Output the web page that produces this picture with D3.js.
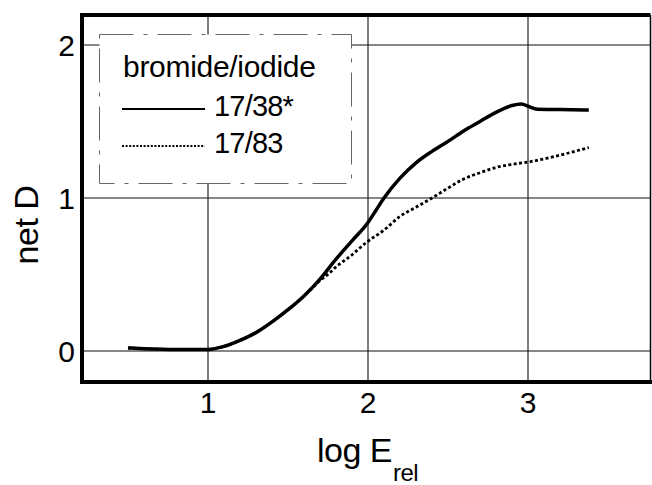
<!DOCTYPE html>
<html>
<head>
<meta charset="utf-8">
<script src="https://cdn.jsdelivr.net/npm/d3@7"></script>
<style>
  html, body { margin: 0; padding: 0; background: #fff; }
  svg { display: block; font-family: "Liberation Sans", Arial, Helvetica, sans-serif; }
</style>
</head>
<body>
<svg id="chart" width="652" height="485"></svg>
<script>
// log E_rel values and net density for the two bromide/iodide ratios
const xSolid = [0.50, 0.60, 0.80, 1.00, 1.10, 1.20, 1.30, 1.40, 1.50, 1.60, 1.70, 1.80, 1.90, 2.00, 2.05, 2.10, 2.20, 2.30, 2.40, 2.50, 2.60, 2.70, 2.80, 2.90, 2.96, 3.00, 3.06, 3.20, 3.38];
const ySolid = [0.02, 0.015, 0.01, 0.01, 0.03, 0.07, 0.12, 0.19, 0.27, 0.36, 0.47, 0.60, 0.72, 0.84, 0.92, 1.00, 1.13, 1.23, 1.305, 1.37, 1.44, 1.50, 1.56, 1.605, 1.615, 1.60, 1.58, 1.578, 1.575];

const xDotted = [0.50, 0.60, 0.80, 1.00, 1.10, 1.20, 1.30, 1.40, 1.50, 1.60, 1.65, 1.70, 1.76, 1.80, 1.89, 1.99, 2.10, 2.20, 2.30, 2.40, 2.50, 2.59, 2.70, 2.80, 2.90, 3.00, 3.16, 3.38];
const yDotted = [0.02, 0.015, 0.01, 0.01, 0.03, 0.07, 0.12, 0.19, 0.27, 0.36, 0.41, 0.46, 0.51, 0.55, 0.62, 0.71, 0.79, 0.88, 0.94, 1.00, 1.065, 1.12, 1.165, 1.20, 1.22, 1.235, 1.27, 1.33];

const xTicks = [1, 2, 3];
const yTicks = [0, 1, 2];
const legendTitle = "bromide/iodide";
const seriesNames = ["17/38*", "17/83"];

const svg = d3.select("#chart");

const x = d3.scaleLinear().domain([0, 4]).range([48, 688]);
const y = d3.scaleLinear().domain([0, 2]).range([351, 45]);

// plot frame (pixel edges)
const fL = 82, fR = 650.5, fT = 15, fB = 382;

// grid lines
const grid = svg.append("g").attr("stroke", "#111").attr("stroke-width", 1.1);
grid.selectAll("line.v").data(xTicks).join("line")
  .attr("x1", d => x(d)).attr("x2", d => x(d))
  .attr("y1", fT).attr("y2", fB);
grid.selectAll("line.h").data(yTicks).join("line")
  .attr("x1", fL).attr("x2", fR)
  .attr("y1", d => y(d)).attr("y2", d => y(d));

// curves
const line = d3.line().x(d => x(d[0])).y(d => y(d[1])).curve(d3.curveMonotoneX);
const solidPts = xSolid.map((v, i) => [v, ySolid[i]]);
const dottedPts = xDotted.map((v, i) => [v, yDotted[i]]);

svg.append("path").datum(dottedPts)
  .attr("d", line).attr("fill", "none").attr("stroke", "#000")
  .attr("stroke-width", 2.8).attr("stroke-dasharray", "3,2.4");
svg.append("path").datum(solidPts)
  .attr("d", line).attr("fill", "none").attr("stroke", "#000")
  .attr("stroke-width", 3.5).attr("stroke-linejoin", "round");

// legend box
const lg = svg.append("g");
lg.append("rect")
  .attr("x", 99.5).attr("y", 34.5).attr("width", 252).attr("height", 149)
  .attr("fill", "#fff").attr("stroke", "#666").attr("stroke-width", 1)
  .attr("stroke-dasharray", "34,10,4,10");
lg.append("text").attr("x", 123).attr("y", 77)
  .attr("font-size", 30).attr("letter-spacing", -0.3).text(legendTitle);
lg.append("line").attr("x1", 122).attr("x2", 205).attr("y1", 109).attr("y2", 109)
  .attr("stroke", "#000").attr("stroke-width", 2.2);
lg.append("line").attr("x1", 122).attr("x2", 205).attr("y1", 146).attr("y2", 146)
  .attr("stroke", "#000").attr("stroke-width", 2).attr("stroke-dasharray", "2,1.6");
lg.selectAll("text.s").data(seriesNames).join("text")
  .attr("x", 214).attr("y", (d, i) => 116 + i * 37)
  .attr("font-size", 29).attr("letter-spacing", -0.8).text(d => d);

// frame: thick left, top and bottom edges, thin right edge
const frame = svg.append("g").attr("stroke", "#000").attr("fill", "none");
frame.append("path")
  .attr("d", `M${fR},${fT} L${fL},${fT} L${fL},${fB} L${652},${fB}`)
  .attr("stroke-width", 4).attr("stroke-linejoin", "miter");
frame.append("line").attr("x1", fR).attr("x2", fR).attr("y1", fT).attr("y2", fB)
  .attr("stroke-width", 1.5);

// tick labels
svg.selectAll("text.xt").data(xTicks).join("text")
  .attr("x", d => x(d)).attr("y", 413)
  .attr("text-anchor", "middle").attr("font-size", 30).text(d => d);
svg.selectAll("text.yt").data(yTicks).join("text")
  .attr("x", 75).attr("y", d => y(d) + 10.5)
  .attr("text-anchor", "end").attr("font-size", 30).text(d => d);

// axis titles
svg.append("text")
  .attr("transform", "translate(38,225) rotate(-90)")
  .attr("text-anchor", "middle").attr("font-size", 34).attr("letter-spacing", -0.5)
  .text("net D");
const xt = svg.append("text").attr("x", 317).attr("y", 462).attr("font-size", 34).attr("letter-spacing", -0.5);
xt.append("tspan").text("log E");
xt.append("tspan").attr("font-size", 24).attr("dy", 19).attr("dx", 1).text("rel");
</script>
</body>
</html>
